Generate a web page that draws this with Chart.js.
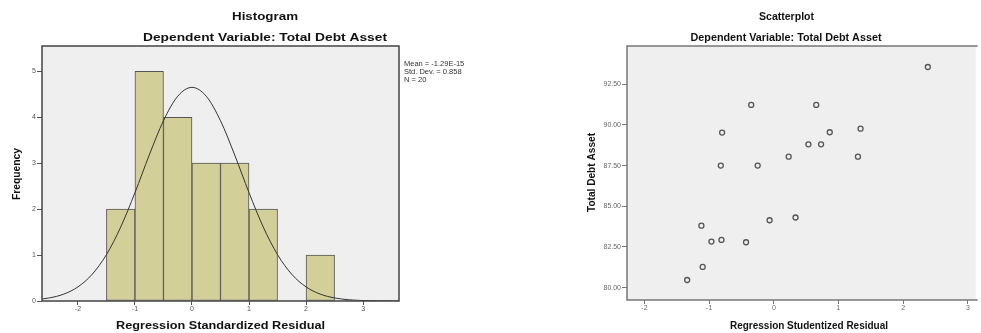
<!DOCTYPE html>
<html lang="en">
<head>
  <meta charset="UTF-8">
  <title>Histogram and Scatterplot</title>
  <script src="https://cdn.jsdelivr.net/npm/chart.js"></script>
  <style>
    body {
      margin: 0;
      padding: 0;
      background: #fff;
      width: 981px;
      height: 333px;
      position: relative;
      overflow: hidden;
    }
    canvas {
      position: absolute;
      top: 0;
    }
    #histChart { left: 0; }
    #scatterChart { left: 490px; }
  </style>
</head>
<body>

<canvas id="histChart" width="490" height="333"></canvas>
<canvas id="scatterChart" width="491" height="333"></canvas>

<script>
  // histogram bins (width 0.5) and counts
  var binCenters = [-1.25, -0.75, -0.25, 0.25, 0.75, 1.25, 1.75, 2.25];
  var binCounts = [2, 5, 4, 3, 3, 2, 0, 1];

  // fitted normal curve
  var curveX = [-2.75, -2.5, -2.25, -2, -1.75, -1.5, -1.25, -1, -0.75, -0.5, -0.25, 0,
                0.25, 0.5, 0.75, 1, 1.25, 1.5, 1.75, 2, 2.25, 2.5, 2.75, 3, 3.25, 3.5, 3.75];
  var curveY = [0.027, 0.067, 0.149, 0.307, 0.581, 1.009, 1.609, 2.358, 3.174, 3.924, 4.457, 4.65,
                4.457, 3.924, 3.174, 2.358, 1.609, 1.009, 0.581, 0.307, 0.149, 0.067, 0.027, 0.010, 0.004, 0.001, 0.0003];

  var statLines = ['Mean = -1.29E-15', 'Std. Dev. = 0.858', 'N = 20'];

  // scatterplot
  var residX = [2.38, -0.35, 0.655, -0.80, 0.864, 1.34, 0.534, 0.73, 0.229, 1.30,
                -0.82, -0.25, -0.066, 0.335, -1.12, -0.965, -0.81, -0.43, -1.10, -1.34];
  var debtY = [93.56, 91.23, 91.23, 89.53, 89.55, 89.77, 88.81, 88.81, 88.05, 88.05,
               87.5, 87.5, 84.14, 84.31, 83.81, 82.83, 82.93, 82.79, 81.27, 80.47];

  var FONT = "'Liberation Sans', Arial, sans-serif";

  // draw text squeezed/stretched to a given width
  function fitText(ctx, txt, x, y, w, font, color, rot) {
    ctx.save();
    ctx.font = font;
    ctx.fillStyle = color;
    ctx.textAlign = 'center';
    ctx.textBaseline = 'middle';
    var mw = ctx.measureText(txt).width;
    ctx.translate(x, y);
    if (rot) ctx.rotate(rot);
    ctx.scale(w / mw, 1);
    ctx.fillText(txt, 0, 0);
    ctx.restore();
  }

  var framePlugin = {
    id: 'frame',
    beforeDraw: function(chart) {
      var a = chart.chartArea, ctx = chart.ctx;
      ctx.save();
      ctx.fillStyle = '#efefef';
      ctx.fillRect(a.left, a.top, a.right - a.left, a.bottom - a.top);
      ctx.restore();
    },
    afterDraw: function(chart) {
      var a = chart.chartArea, ctx = chart.ctx;
      var o = chart.options.plugins.frame;
      ctx.save();
      ctx.strokeStyle = o.color;
      ctx.lineWidth = 1.5;
      ctx.beginPath();
      if (o.right) {
        ctx.rect(a.left, a.top, a.right - a.left, a.bottom - a.top);
      } else {
        ctx.moveTo(a.right + 2, a.top);
        ctx.lineTo(a.left, a.top);
        ctx.lineTo(a.left, a.bottom);
        ctx.lineTo(a.right + 2, a.bottom);
      }
      ctx.stroke();
      ctx.restore();
      (o.texts || []).forEach(function(t) {
        fitText(ctx, t.text, t.x, t.y, t.w, t.font, '#111', t.rot);
      });
      (o.plain || []).forEach(function(t) {
        ctx.save();
        ctx.font = t.font;
        ctx.fillStyle = '#333';
        ctx.textAlign = 'left';
        ctx.textBaseline = 'middle';
        ctx.fillText(t.text, t.x, t.y);
        ctx.restore();
      });
    }
  };

  var tickFont = { family: FONT, size: 7 };

  // ---------- histogram ----------
  var histCtx = document.getElementById('histChart').getContext('2d');
  new Chart(histCtx, {
    data: {
      datasets: [{
        type: 'line',
        data: curveX.map(function(x, i) { return { x: x, y: curveY[i] }; }),
        borderColor: '#333',
        borderWidth: 1,
        pointRadius: 0,
        cubicInterpolationMode: 'monotone',
        order: 0
      }, {
        type: 'bar',
        data: binCenters.map(function(x, i) { return { x: x, y: binCounts[i] }; }),
        backgroundColor: '#d3cf98',
        borderColor: '#555',
        borderWidth: 1,
        borderSkipped: false,
        barPercentage: 1,
        categoryPercentage: 1,
        order: 1
      }]
    },
    options: {
      responsive: false,
      animation: false,
      layout: { padding: { left: 0, top: 46, right: 91, bottom: 0 } },
      plugins: {
        legend: { display: false },
        tooltip: { enabled: false },
        frame: {
          color: '#444',
          right: true,
          texts: [
            { text: 'Histogram', x: 265, y: 17, w: 66, font: 'bold 10px ' + FONT },
            { text: 'Dependent Variable: Total Debt Asset', x: 265, y: 38, w: 244, font: 'bold 10px ' + FONT },
            { text: 'Regression Standardized Residual', x: 220.5, y: 326.5, w: 209, font: 'bold 10px ' + FONT },
            { text: 'Frequency', x: 17, y: 174, w: 52, font: 'bold 10px ' + FONT, rot: -Math.PI / 2 }
          ],
          plain: [
            { text: statLines[0], x: 404, y: 64, font: '7.5px ' + FONT },
            { text: statLines[1], x: 404, y: 72, font: '7.5px ' + FONT },
            { text: statLines[2], x: 404, y: 80, font: '7.5px ' + FONT }
          ]
        }
      },
      scales: {
        x: {
          type: 'linear',
          min: -2.63,
          max: 3.63,
          offset: false,
          grid: { offset: false, drawOnChartArea: false, color: '#555', tickLength: 4 },
          border: { display: false },
          ticks: { stepSize: 1, includeBounds: false, font: tickFont, color: '#555', padding: 0, maxRotation: 0 },
          afterFit: function(s) { s.height = 32; }
        },
        y: {
          min: 0,
          max: 5.55,
          grid: { drawOnChartArea: false, color: '#555', tickLength: 5 },
          border: { display: false },
          ticks: { stepSize: 1, includeBounds: false, font: tickFont, color: '#555', padding: 1 },
          afterFit: function(s) { s.width = 42; }
        }
      }
    },
    plugins: [framePlugin]
  });

  // ---------- scatterplot ----------
  var scCtx = document.getElementById('scatterChart').getContext('2d');
  new Chart(scCtx, {
    type: 'scatter',
    data: {
      datasets: [{
        data: residX.map(function(x, i) { return { x: x, y: debtY[i] }; }),
        pointRadius: 2.5,
        pointBorderWidth: 1.3,
        pointBorderColor: '#555',
        pointBackgroundColor: 'rgba(0,0,0,0)'
      }]
    },
    options: {
      responsive: false,
      animation: false,
      layout: { padding: { left: 0, top: 46, right: 0, bottom: 0 } },
      plugins: {
        legend: { display: false },
        tooltip: { enabled: false },
        frame: {
          color: '#777',
          right: false,
          texts: [
            { text: 'Scatterplot', x: 296.5, y: 17, w: 55, font: 'bold 10px ' + FONT },
            { text: 'Dependent Variable: Total Debt Asset', x: 296, y: 38, w: 191, font: 'bold 10px ' + FONT },
            { text: 'Regression Studentized Residual', x: 319, y: 326, w: 158, font: 'bold 10px ' + FONT },
            { text: 'Total Debt Asset', x: 102, y: 172.5, w: 79, font: 'bold 10px ' + FONT, rot: -Math.PI / 2 }
          ]
        }
      },
      scales: {
        x: {
          type: 'linear',
          min: -2.27,
          max: 3.12,
          grid: { drawOnChartArea: false, color: '#777', tickLength: 4 },
          border: { display: false },
          ticks: { stepSize: 1, includeBounds: false, font: tickFont, color: '#666', padding: 0, maxRotation: 0 },
          afterFit: function(s) { s.height = 33; }
        },
        y: {
          min: 79.24,
          max: 94.85,
          grid: { drawOnChartArea: false, color: '#777', tickLength: 5 },
          border: { display: false },
          ticks: {
            stepSize: 2.5,
            includeBounds: false,
            font: tickFont,
            color: '#666',
            padding: 1,
            callback: function(v) { return v.toFixed(2); }
          },
          afterFit: function(s) { s.width = 137; }
        }
      }
    },
    plugins: [framePlugin]
  });
</script>

</body>
</html>
